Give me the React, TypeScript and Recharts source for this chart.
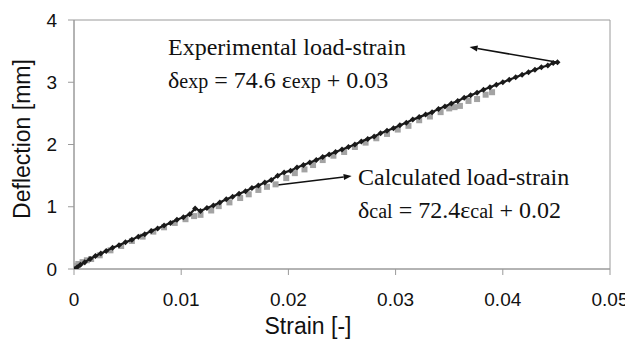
import React from "react";
import {
  ScatterChart,
  Scatter,
  XAxis,
  YAxis,
  ReferenceArea,
  ReferenceLine,
} from "recharts";

// Experimental load-strain (strain [-], deflection [mm])
const expStrain = [
  0, 0.0003, 0.0006, 0.001, 0.0015, 0.002, 0.0025, 0.003, 0.0036, 0.0042, 0.0048,
  0.0054, 0.006, 0.0066, 0.0072, 0.0078, 0.0084, 0.009, 0.0096, 0.0102, 0.0108,
  0.0113, 0.0118, 0.0124, 0.013, 0.0136, 0.0142, 0.0148, 0.0154, 0.016, 0.0166,
  0.0172, 0.0178, 0.0184, 0.019, 0.0196, 0.0202, 0.0208, 0.0214, 0.022, 0.0226,
  0.0232, 0.0238, 0.0244, 0.025, 0.0256, 0.0262, 0.0268, 0.0274, 0.028, 0.0286,
  0.0292, 0.0298, 0.0304, 0.031, 0.0316, 0.0322, 0.0328, 0.0334, 0.034, 0.0346,
  0.0352, 0.0358, 0.0364, 0.037, 0.0376, 0.0382, 0.0388, 0.0394, 0.04, 0.0406,
  0.0412, 0.0418, 0.0424, 0.043, 0.0436, 0.0442, 0.0447, 0.0451,
];
const expDeflection = [
  0.0, 0.03, 0.07, 0.11, 0.16, 0.21, 0.25, 0.29, 0.34, 0.38, 0.43,
  0.47, 0.52, 0.56, 0.61, 0.65, 0.7, 0.74, 0.79, 0.83, 0.88,
  0.97, 0.93, 0.98, 1.02, 1.07, 1.12, 1.16, 1.21, 1.25, 1.3,
  1.34, 1.39, 1.43, 1.5, 1.55, 1.58, 1.63, 1.67, 1.71, 1.75,
  1.8, 1.84, 1.88, 1.92, 1.96, 2.0, 2.05, 2.09, 2.13, 2.18,
  2.22, 2.26, 2.31, 2.35, 2.4, 2.44, 2.48, 2.52, 2.57, 2.61,
  2.66, 2.7, 2.75, 2.79, 2.83, 2.88, 2.92, 2.96, 3.0, 3.04,
  3.08, 3.12, 3.16, 3.2, 3.24, 3.27, 3.31, 3.32,
];

// Calculated load-strain
const calStrain = [
  0, 0.0004, 0.0008, 0.0012, 0.0016, 0.0024, 0.0034, 0.0044, 0.0054, 0.0064,
  0.0074, 0.0084, 0.0094, 0.0104, 0.0112, 0.0118, 0.0128, 0.0135, 0.0145, 0.0155,
  0.0163, 0.0172, 0.018, 0.0188, 0.0198, 0.0206, 0.0215, 0.0223, 0.0232, 0.0242,
  0.0252, 0.0262, 0.0272, 0.0282, 0.0292, 0.0302, 0.0312, 0.0322, 0.0332, 0.0342,
  0.035, 0.0355, 0.036, 0.0368, 0.0376, 0.0384, 0.039,
];
const calDeflection = [
  0.05, 0.08, 0.11, 0.14, 0.16, 0.22, 0.3, 0.37, 0.45, 0.52,
  0.6, 0.67, 0.74, 0.8, 0.85, 0.87, 0.94, 1.01, 1.07, 1.14,
  1.2, 1.27, 1.32, 1.36, 1.46, 1.54, 1.6, 1.67, 1.75, 1.82,
  1.88, 1.96, 2.03, 2.1, 2.17, 2.24, 2.3, 2.39, 2.45, 2.52,
  2.58, 2.6, 2.62, 2.7, 2.73, 2.8, 2.84,
];

const xTicks = [0, 0.01, 0.02, 0.03, 0.04, 0.05];
const yTicks = [0, 1, 2, 3, 4];

// Annotation arrows (tail on data, head near labels), in data units
const arrowExp = { from: [0.0451, 3.32], to: [0.0369, 3.565] };
const arrowCal = { from: [0.019, 1.35], to: [0.0259, 1.494] };

const expData = expStrain.map((s, i) => ({ s, d: expDeflection[i] }));
const calData = calStrain.map((s, i) => ({ s, d: calDeflection[i] }));

const W = 625;
const H = 337;
const AXIS_GRAY = "#9a9a9a";
const TICK_FONT = "'Liberation Sans', Arial, sans-serif";
const SERIF = "'Liberation Serif', 'Times New Roman', serif";

const Diamond = (props: any) => {
  const { cx, cy } = props;
  if (cx == null || cy == null) return null;
  const r = 3;
  return (
    <polygon
      points={`${cx},${cy - r} ${cx + r},${cy} ${cx},${cy + r} ${cx - r},${cy}`}
      fill="#1a1a1a"
    />
  );
};

const Square = (props: any) => {
  const { cx, cy } = props;
  if (cx == null || cy == null) return null;
  return <rect x={cx - 3} y={cy - 3} width={6} height={6} fill="#a3a3a3" />;
};

const Arrow = (props: any) => {
  const { x1, y1, x2, y2 } = props;
  if ([x1, y1, x2, y2].some((v) => v == null || isNaN(v))) return null;
  const ang = Math.atan2(y2 - y1, x2 - x1);
  const len = 8;
  const half = 3;
  const bx = x2 - len * Math.cos(ang);
  const by = y2 - len * Math.sin(ang);
  const px = -Math.sin(ang) * half;
  const py = Math.cos(ang) * half;
  return (
    <g>
      <line x1={x1} y1={y1} x2={bx} y2={by} stroke="#111" strokeWidth={1.6} />
      <polygon
        points={`${x2},${y2} ${bx + px},${by + py} ${bx - px},${by - py}`}
        fill="#111"
      />
    </g>
  );
};

export default function App() {
  return (
    <div style={{ position: "relative", width: W, height: H }}>
      <ScatterChart
        width={W}
        height={H}
        margin={{ top: 12, right: 23, bottom: 0, left: 0 }}
      >
        <XAxis
          type="number"
          dataKey="s"
          domain={[0, 0.05]}
          ticks={xTicks}
          allowDataOverflow
          height={76}
          tickSize={6}
          tickMargin={18}
          axisLine={{ stroke: AXIS_GRAY }}
          tickLine={{ stroke: AXIS_GRAY }}
          tick={{ fill: "#111", fontSize: 19, fontFamily: TICK_FONT }}
        />
        <YAxis
          type="number"
          dataKey="d"
          domain={[0, 4]}
          ticks={yTicks}
          allowDataOverflow
          width={66}
          tickSize={6}
          tickMargin={11}
          axisLine={{ stroke: AXIS_GRAY }}
          tickLine={{ stroke: AXIS_GRAY }}
          tick={{ fill: "#111", fontSize: 19, fontFamily: TICK_FONT }}
        />
        <ReferenceArea
          x1={0}
          x2={0.05}
          y1={0}
          y2={4}
          fill="none"
          stroke={AXIS_GRAY}
          strokeWidth={1}
        />
        <Scatter
          name="Calculated"
          data={calData}
          shape={Square}
          isAnimationActive={false}
        />
        <Scatter
          name="Experimental"
          data={expData}
          shape={Diamond}
          line={{ stroke: "#1a1a1a", strokeWidth: 2.2 }}
          isAnimationActive={false}
        />
        <ReferenceLine
          segment={[
            { x: arrowExp.from[0], y: arrowExp.from[1] },
            { x: arrowExp.to[0], y: arrowExp.to[1] },
          ]}
          shape={Arrow}
        />
        <ReferenceLine
          segment={[
            { x: arrowCal.from[0], y: arrowCal.from[1] },
            { x: arrowCal.to[0], y: arrowCal.to[1] },
          ]}
          shape={Arrow}
        />
      </ScatterChart>
      <svg
        width={W}
        height={H}
        style={{ position: "absolute", left: 0, top: 0, pointerEvents: "none" }}
      >
        <text
          x={14}
          y={131}
          transform="rotate(-90 14 131)"
          textAnchor="middle"
          dominantBaseline="central"
          fontFamily={TICK_FONT}
          fontSize={23}
          fill="#111"
        >
          Deflection [mm]
        </text>
        <text
          x={300}
          y={326}
          textAnchor="middle"
          fontFamily={TICK_FONT}
          fontSize={23}
          fill="#111"
        >
          Strain [-]
        </text>
        <g fontFamily={SERIF} fill="#111">
          <text x={160} y={47} fontSize={24}>
            Experimental load-strain
          </text>
          <text x={160} y={80} fontSize={24}>
            δ<tspan fontSize={20}>exp</tspan> = 74.6 ε<tspan fontSize={20}>exp</tspan> + 0.03
          </text>
          <text x={350} y={177} fontSize={24}>
            Calculated load-strain
          </text>
          <text x={350} y={210} fontSize={24}>
            δ<tspan fontSize={20}>cal</tspan> = 72.4ε<tspan fontSize={20}>cal</tspan> + 0.02
          </text>
        </g>
      </svg>
    </div>
  );
}
